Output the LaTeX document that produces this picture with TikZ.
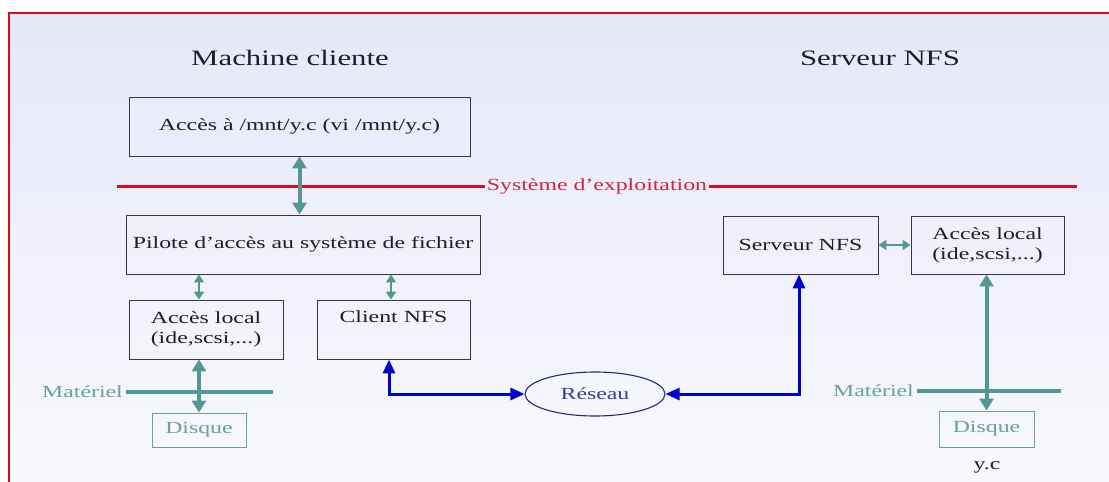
\documentclass[tikz,border=0pt]{standalone}
\usepackage{fontspec}
\setmainfont{Liberation Serif}[FakeStretch=1.4]
\usetikzlibrary{arrows.meta,shapes.geometric}

\definecolor{bgtop}{RGB}{230,232,250}
\definecolor{bgbot}{RGB}{249,249,253}
\definecolor{framered}{RGB}{220,10,20}
\definecolor{osred}{RGB}{205,40,60}
\definecolor{boxline}{RGB}{55,55,60}
\definecolor{txt}{RGB}{30,30,35}
\definecolor{tealc}{RGB}{82,150,150}
\definecolor{teallight}{RGB}{105,160,160}
\definecolor{netblue}{RGB}{0,0,205}
\definecolor{navy}{RGB}{40,40,120}
\definecolor{navytext}{RGB}{55,60,150}

\tikzset{
  boxtext/.style={font=\fontsize{17}{20}\selectfont, text=txt},
  title/.style={font=\fontsize{22}{26}\selectfont, text=txt},
  blk/.style={boxtext, draw=boxline, line width=0.9pt, inner sep=0pt, align=center},
  disk/.style={font=\fontsize{17}{20}\selectfont, text=teallight, draw=teallight,
    line width=0.9pt, inner sep=0pt},
  hwlabel/.style={font=\fontsize{17}{20}\selectfont, text=teallight, inner sep=3pt},
  thickio/.style={draw=tealc, line width=4pt,
    {Triangle[width=14pt,length=12pt]}-{Triangle[width=14pt,length=12pt]}},
  thinio/.style={draw=tealc, line width=2.6pt,
    {Triangle[width=10pt,length=8pt]}-{Triangle[width=10pt,length=8pt]}},
  netlink/.style={draw=netblue, line width=3pt, line join=miter,
    {Triangle[width=12pt,length=14pt]}-{Triangle[width=12pt,length=14pt]}},
  hwline/.style={draw=tealc, line width=4pt},
}

\begin{document}
\begin{tikzpicture}[x=1pt,y=-1pt]
\useasboundingbox (0,0) rectangle (1109,482);
\fill[white] (0,0) rectangle (1109,482);

% slide background and its red frame
\shade[top color=bgtop, bottom color=bgbot] (9,13) rectangle (1115,490);
\draw[framered, line width=2.5pt] (9,490) -- (9,13) -- (1115,13);

% column titles
\node[title] (tclient) at (290,58) {Machine cliente};
\node[title] (tserver) at (880,58) {Serveur NFS};

% client side
\node[blk, minimum width=341, minimum height=59] (app) at (299.5,126.5)
  {Accès à /mnt/y.c (vi /mnt/y.c)};
\node[blk, minimum width=354, minimum height=59] (vfs) at (303,244.5)
  {Pilote d’accès au système de fichier};
\node[blk, minimum width=154, minimum height=59] (localL) at (206,329.5)
  {Accès local\\(ide,scsi,...)};
\node[blk, minimum width=153, minimum height=59] (client) at (393.5,329.5)
  {Client NFS\\\strut};
\node[disk, minimum width=94, minimum height=34] (diskL) at (199,430) {Disque};

% server side
\node[blk, minimum width=155, minimum height=58] (server) at (800.5,245) {Serveur NFS};
\node[blk, minimum width=153, minimum height=58] (localR) at (987.5,245)
  {Accès local\\(ide,scsi,...)};
\node[disk, minimum width=95, minimum height=36] (diskR) at (986.5,429) {Disque};
\node[boxtext, inner sep=0pt] (file) at (987,467) {y.c};

% network
\node[ellipse, draw=navy, line width=1.1pt, minimum width=140, minimum height=44,
  inner sep=0pt, font=\fontsize{17}{20}\selectfont, text=navytext] (net) at (595,394) {Réseau};

% operating system boundary
\node[font=\fontsize{17}{20}\selectfont, text=osred, inner xsep=2pt] (os) at (597,186)
  {Système d’exploitation};
\coordinate (osL) at (117,186);
\coordinate (osR) at (1077,186);
\draw[framered, line width=3pt] (osL) -- (os.west);
\draw[framered, line width=3pt] (os.east) -- (osR);

% hardware boundaries
\node[hwlabel, anchor=east] (hwL) at (126,392) {Matériel};
\coordinate (hwLend) at (273,392);
\draw[hwline] (hwL.east) -- (hwLend);
\node[hwlabel, anchor=east] (hwR) at (917,391) {Matériel};
\coordinate (hwRend) at (1061,391);
\draw[hwline] (hwR.east) -- (hwRend);

% local data paths
\draw[thickio] (app.south) -- (app.south |- vfs.north);
\coordinate (vl) at ([xshift=-7pt]localL.north);
\coordinate (vc) at ([xshift=-2.5pt]client.north);
\draw[thinio] (vl |- vfs.south) -- (vl);
\draw[thinio] (vc |- vfs.south) -- (vc);
\draw[thickio] (diskL.north |- localL.south) -- (diskL.north);
\draw[thinio] (server.east) -- (localR.west);
\draw[thickio] (diskR.north |- localR.south) -- (diskR.north);

% network paths
\coordinate (cb) at ([xshift=-4.5pt]client.south);
\coordinate (sb) at ([xshift=-1.5pt]server.south);
\draw[netlink] (cb) |- (net.west);
\draw[netlink] (net.east) -| (sb);
\end{tikzpicture}
\end{document}
